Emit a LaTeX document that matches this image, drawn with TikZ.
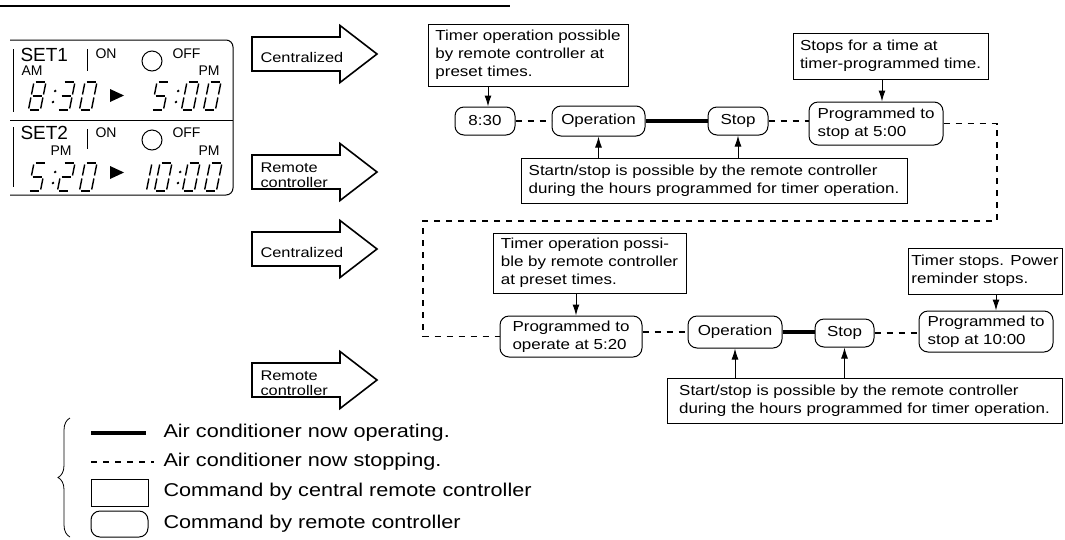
\documentclass[tikz,border=0pt]{standalone}
\usepackage{fontspec}
\setmainfont{Liberation Sans}
\newfontfamily\widefont{Liberation Sans}[FakeStretch=1.17]
\usetikzlibrary{arrows.meta,decorations.pathreplacing}

% seven-segment digits of the timer panel
\newcommand{\lcdzero}{a,b,c,d,e,f}
\newcommand{\lcdone}{b,c}
\newcommand{\lcdtwo}{a,b,g,e,d}
\newcommand{\lcdthree}{a,b,g,c,d}
\newcommand{\lcdfive}{a,f,g,c,d}
\newcommand{\lcdeight}{a,b,c,d,e,f,g}
\newcommand{\lcdseg}[1]{%
  \if#1a\draw[lcd] (1.5,0)--(10.5,0);\fi
  \if#1b\draw[lcd] (12,1.5)--(12,12.5);\fi
  \if#1c\draw[lcd] (12,15.5)--(12,26.5);\fi
  \if#1d\draw[lcd] (1.5,28)--(10.5,28);\fi
  \if#1e\draw[lcd] (0,15.5)--(0,26.5);\fi
  \if#1f\draw[lcd] (0,1.5)--(0,12.5);\fi
  \if#1g\draw[lcd] (1.5,14)--(10.5,14);\fi}
\newcommand{\lcddigit}[3]{%
  \begin{scope}[shift={(#1,#2)},xslant=0.2]
    \foreach \s in #3 {\lcdseg{\s}}
  \end{scope}}
\newcommand{\lcdcolon}[2]{%
  \begin{scope}[shift={(#1,#2)},xslant=0.2]
    \fill (0,9) circle (1.4) (0,20) circle (1.4);
  \end{scope}}
% big hollow arrow with its label
\newcommand{\modearrow}[3]{%
  \draw[blockarrow] (252,#2-17) -- (340,#2-17) -- (340,#2-28.5) -- (377,#2)
    -- (340,#2+28.5) -- (340,#2+17) -- (252,#2+17) -- cycle;
  \node[modelabel] (#1) at (260,#2+3.5) {#3};}

\begin{document}
\begin{tikzpicture}[x=1pt,y=-1pt,>={Latex[length=11pt,width=7pt]},line width=1pt,
  note/.style={draw,fill=white,align=left,inner sep=3pt,font=\widefont\fontsize{14.5}{18}\selectfont},
  cmd/.style={note,rounded corners=9pt},
  runline/.style={line width=3.6pt},
  stopline/.style={line width=1.7pt,dash pattern=on 6pt off 6pt},
  pointer/.style={->,line width=1pt},
  blockarrow/.style={draw,fill=white,line width=1.6pt,line join=miter},
  modelabel/.style={anchor=west,align=left,inner sep=0pt,font=\widefont\fontsize{14}{15}\selectfont},
  lcd/.style={line width=1.4pt},
  settext/.style={anchor=base west,inner sep=0pt,font=\fontsize{19}{20}\selectfont},
  paneltext/.style={anchor=base west,inner sep=0pt,font=\fontsize{14}{15}\selectfont},
  keytext/.style={anchor=west,inner sep=0pt,font=\widefont\fontsize{18.5}{20}\selectfont}]
\useasboundingbox (0,0) rectangle (1065,539);
\draw[line width=1.2pt] (0,6) -- (510,6);

% timer panel
\draw[rounded corners=7pt] (10,40) -- (233,40) -- (233,195) -- (10,195);
\draw (10,120) -- (233,120);
\draw (13,49) -- (13,112) (13,127) -- (13,187);
\draw (87,49) -- (87,71) (87,129) -- (87,149);
\draw (152,61) circle (10) (152,140) circle (10);
\fill (110,89) -- (124,95.5) -- (110,102) -- cycle;
\fill (110,166) -- (124,172.5) -- (110,179) -- cycle;
\node[settext] (set1) at (20,61) {SET1};
\node[paneltext] (am1) at (21,75) {AM};
\node[paneltext] (on1) at (95,58) {ON};
\node[paneltext] (off1) at (172,58) {OFF};
\node[paneltext] (pm1) at (198,75) {PM};
\node[settext] (set2) at (20,139) {SET2};
\node[paneltext] (pm2) at (50,155) {PM};
\node[paneltext] (on2) at (95,137) {ON};
\node[paneltext] (off2) at (172,137) {OFF};
\node[paneltext] (pm3) at (198,155) {PM};
\lcddigit{34}{82}{\lcdeight}
\lcdcolon{57}{82}
\lcddigit{63}{82}{\lcdthree}
\lcddigit{85}{82}{\lcdzero}
\lcddigit{157}{82}{\lcdfive}
\lcdcolon{180}{82}
\lcddigit{187}{82}{\lcdzero}
\lcddigit{209}{82}{\lcdzero}
\lcddigit{34}{163}{\lcdfive}
\lcdcolon{57}{163}
\lcddigit{63}{163}{\lcdtwo}
\lcddigit{85}{163}{\lcdzero}
\lcddigit{140}{163}{\lcdone}
\lcddigit{160}{163}{\lcdzero}
\lcdcolon{182}{163}
\lcddigit{188}{163}{\lcdzero}
\lcddigit{210}{163}{\lcdzero}

% mode arrows
\modearrow{modeA}{54}{Centralized}
\modearrow{modeB}{172}{Remote\\controller}
\modearrow{modeC}{249}{Centralized}
\modearrow{modeD}{380}{Remote\\controller}

% SET1 sequence
\node[note,minimum width=200,minimum height=62] (tip1) at (528,55) {Timer operation possible\\by remote controller at\\preset times.};
\node[cmd,minimum width=60,minimum height=28] (on830) at (485,121) {8:30};
\node[cmd,minimum width=93,minimum height=30] (run1) at (598.5,121) {Operation};
\node[cmd,minimum width=60,minimum height=28] (halt1) at (738,121) {Stop};
\node[cmd,minimum width=134,minimum height=43] (off500) at (876,123.5) {Programmed to\\stop at 5:00};
\node[note,minimum width=195,minimum height=46] (tip2) at (890.5,56) {Stops for a time at\\timer-programmed time.};
\node[note,minimum width=386,minimum height=45] (tip3) at (714,180.5) {Startn/stop is possible by the remote controller\\during the hours programmed for timer operation.};

% SET2 sequence
\node[note,minimum width=193,minimum height=60] (tip4) at (589.5,263) {Timer operation possi-\\ble by remote controller\\at preset times.};
\node[cmd,minimum width=142,minimum height=41] (on520) at (571,336.5) {Programmed to\\operate at 5:20};
\node[cmd,minimum width=94,minimum height=32] (run2) at (735,332) {Operation};
\node[cmd,minimum width=59,minimum height=28] (halt2) at (844.5,333) {Stop};
\node[cmd,minimum width=134,minimum height=41] (off1000) at (986,331.5) {Programmed to\\stop at 10:00};
\node[note,minimum width=154,minimum height=46] (tip5) at (985,271) {Timer stops. Power\\reminder stops.};
\node[note,minimum width=395,minimum height=45] (tip6) at (864.5,400.5) {Start/stop is possible by the remote controller\\during the hours programmed for timer operation.};

% running / stopped lines
\coordinate (bendA) at (997,221);
\coordinate (bendB) at (423,221);
\draw[stopline] (on830) -- (run1);
\draw[runline] (run1) -- (halt1);
\draw[stopline] (halt1.east) -- (halt1.east -| off500.west);
\draw[stopline] (off500.east) -| (bendA) -- (bendB) |- (on520.west);
\draw[stopline] (run2.west -| on520.east) -- (run2.west);
\draw[runline] (run2.east) -- (run2.east -| halt2.west);
\draw[stopline] (halt2.east) -- (halt2.east -| off1000.west);

% commands
\draw[pointer] ([xshift=3pt]tip1.south -| on830.north) -- ([xshift=3pt]on830.north);
\draw[pointer] ([xshift=6pt]tip2.south -| off500.north) -- ([xshift=6pt]off500.north);
\draw[pointer] (tip3.north -| run1.south) -- (run1.south);
\draw[pointer] (tip3.north -| halt1.south) -- (halt1.south);
\draw[pointer] ([xshift=5pt]tip4.south -| on520.north) -- ([xshift=5pt]on520.north);
\draw[pointer] ([xshift=10pt]tip5.south -| off1000.north) -- ([xshift=10pt]off1000.north);
\draw[pointer] (tip6.north -| run2.south) -- (run2.south);
\draw[pointer] (tip6.north -| halt2.south) -- (halt2.south);

% legend
\draw[line width=0.8pt,decorate,decoration={brace,amplitude=12pt}] (70,537) -- (70,418);
\draw[runline] (91,433) -- (146,433);
\draw[stopline] (91,462) -- (154,462);
\draw (91,479) rectangle (148,506);
\draw[rounded corners=9pt] (91,511) rectangle (148,537);
\node[keytext] (keyrun) at (163,433) {Air conditioner now operating.};
\node[keytext] (keystop) at (163,462) {Air conditioner now stopping.};
\node[keytext] (keycentral) at (163,492) {Command by central remote controller};
\node[keytext] (keyremote) at (163,524) {Command by remote controller};
\end{tikzpicture}
\end{document}
